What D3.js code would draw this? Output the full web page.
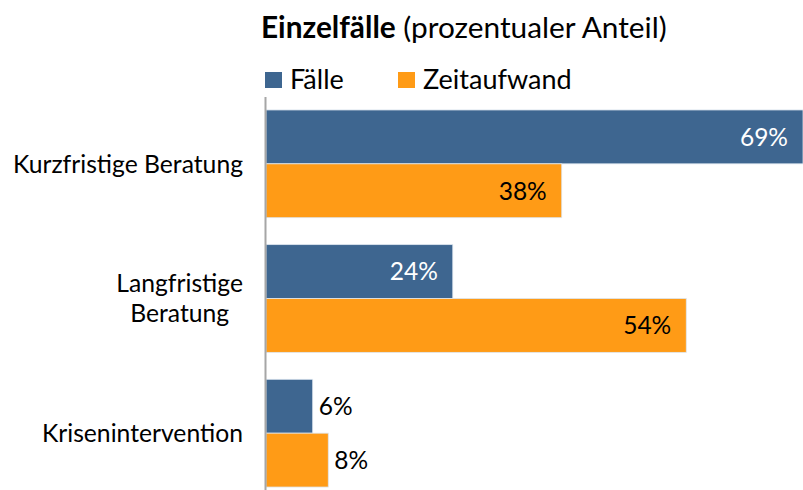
<!DOCTYPE html>
<html>
<head>
<meta charset="utf-8">
<script src="https://cdn.jsdelivr.net/npm/d3@7"></script>
<style>
  body { margin: 0; background: #fff; }
  svg { display: block; font-family: Lato, "Open Sans", sans-serif; }
</style>
</head>
<body>
<div id="chart"></div>
<script>
const width = 803
const height = 490

// data
const categories = ["Kurzfristige Beratung", "Langfristige Beratung", "Krisenintervention"]
const labelLines = [["Kurzfristige Beratung"], ["Langfristige", "Beratung"], ["Krisenintervention"]]
const series = ["Fälle", "Zeitaufwand"]
const faelle = [69, 24, 6]
const zeitaufwand = [38, 54, 8]
const colors = ["#3e6690", "#ff9b16"]

const rows = categories.map((c, i) => ({ cat: c, values: [faelle[i], zeitaufwand[i]] }))

const svg = d3.select("#chart").append("svg")
    .attr("width", width)
    .attr("height", height)

const x = d3.scaleLinear()
    .domain([0, 69])
    .range([266, 803])

const y = d3.scaleBand()
    .domain(categories)
    .range([96.5, 500.5])
    .paddingInner(0.2)
    .paddingOuter(0.1)

const ySub = d3.scaleBand()
    .domain(series)
    .range([0, y.bandwidth()])

// title
const title = svg.append("text")
    .attr("x", 261)
    .attr("y", 38)
    .style("font-size", "29.8px")
    .attr("fill", "#000")
title.append("tspan").style("font-weight", "bold").text("Einzelfälle")
title.append("tspan").text(" (prozentualer Anteil)")

// legend
const legendX = [265, 398]
const legend = svg.selectAll("g.legend")
    .data(series)
    .enter().append("g")
    .attr("class", "legend")
    .attr("transform", (d, i) => `translate(${legendX[i]},72)`)
legend.append("rect")
    .attr("width", 17)
    .attr("height", 16)
    .attr("fill", (d, i) => colors[i])
legend.append("text")
    .attr("x", 25)
    .attr("y", 17)
    .style("font-size", "27px")
    .text(d => d)

// bars
const group = svg.selectAll("g.group")
    .data(rows)
    .enter().append("g")
    .attr("class", "group")
    .attr("transform", d => `translate(0,${y(d.cat)})`)

const bar = group.selectAll("g.bar")
    .data(d => d.values.map((v, i) => ({ key: series[i], value: v, i: i })))
    .enter().append("g")
    .attr("class", "bar")

bar.append("rect")
    .attr("x", x(0))
    .attr("y", d => ySub(d.key))
    .attr("width", d => x(d.value) - x(0))
    .attr("height", ySub.bandwidth())
    .attr("fill", d => colors[d.i])
    .attr("stroke", "#dde6ef")
    .attr("stroke-width", 0.8)

// labels inside the bar when there is room, otherwise just after it
bar.append("text")
    .attr("x", d => d.value > 15 ? x(d.value) - 15 : x(d.value) + 6)
    .attr("y", d => ySub(d.key) + ySub.bandwidth() / 2)
    .attr("dy", "0.36em")
    .attr("text-anchor", d => d.value > 15 ? "end" : "start")
    .style("font-size", "24.5px")
    .attr("fill", d => (d.value > 15 && d.i === 0) ? "#fff" : "#000")
    .text(d => d.value + "%")

// axis line
svg.append("line")
    .attr("x1", 265.5)
    .attr("x2", 265.5)
    .attr("y1", 97)
    .attr("y2", height)
    .attr("stroke", "#a6a6a6")
    .attr("stroke-width", 2)

// category labels, wrapped lines centred on each other, block right aligned
const catLabel = svg.selectAll("g.cat")
    .data(categories)
    .enter().append("g")
    .attr("class", "cat")

catLabel.each(function(c, i) {
    const g = d3.select(this)
    const lines = labelLines[i]
    const cy = y(c) + y.bandwidth() / 2
    const texts = lines.map((l, k) => g.append("text")
        .attr("y", cy + (k - (lines.length - 1) / 2) * 30)
        .attr("dy", "0.36em")
        .attr("text-anchor", "middle")
        .style("font-size", "24.7px")
        .text(l))
    const maxW = d3.max(texts, t => t.node().getComputedTextLength())
    texts.forEach(t => t.attr("x", 243 - maxW / 2))
})
</script>
</body>
</html>
